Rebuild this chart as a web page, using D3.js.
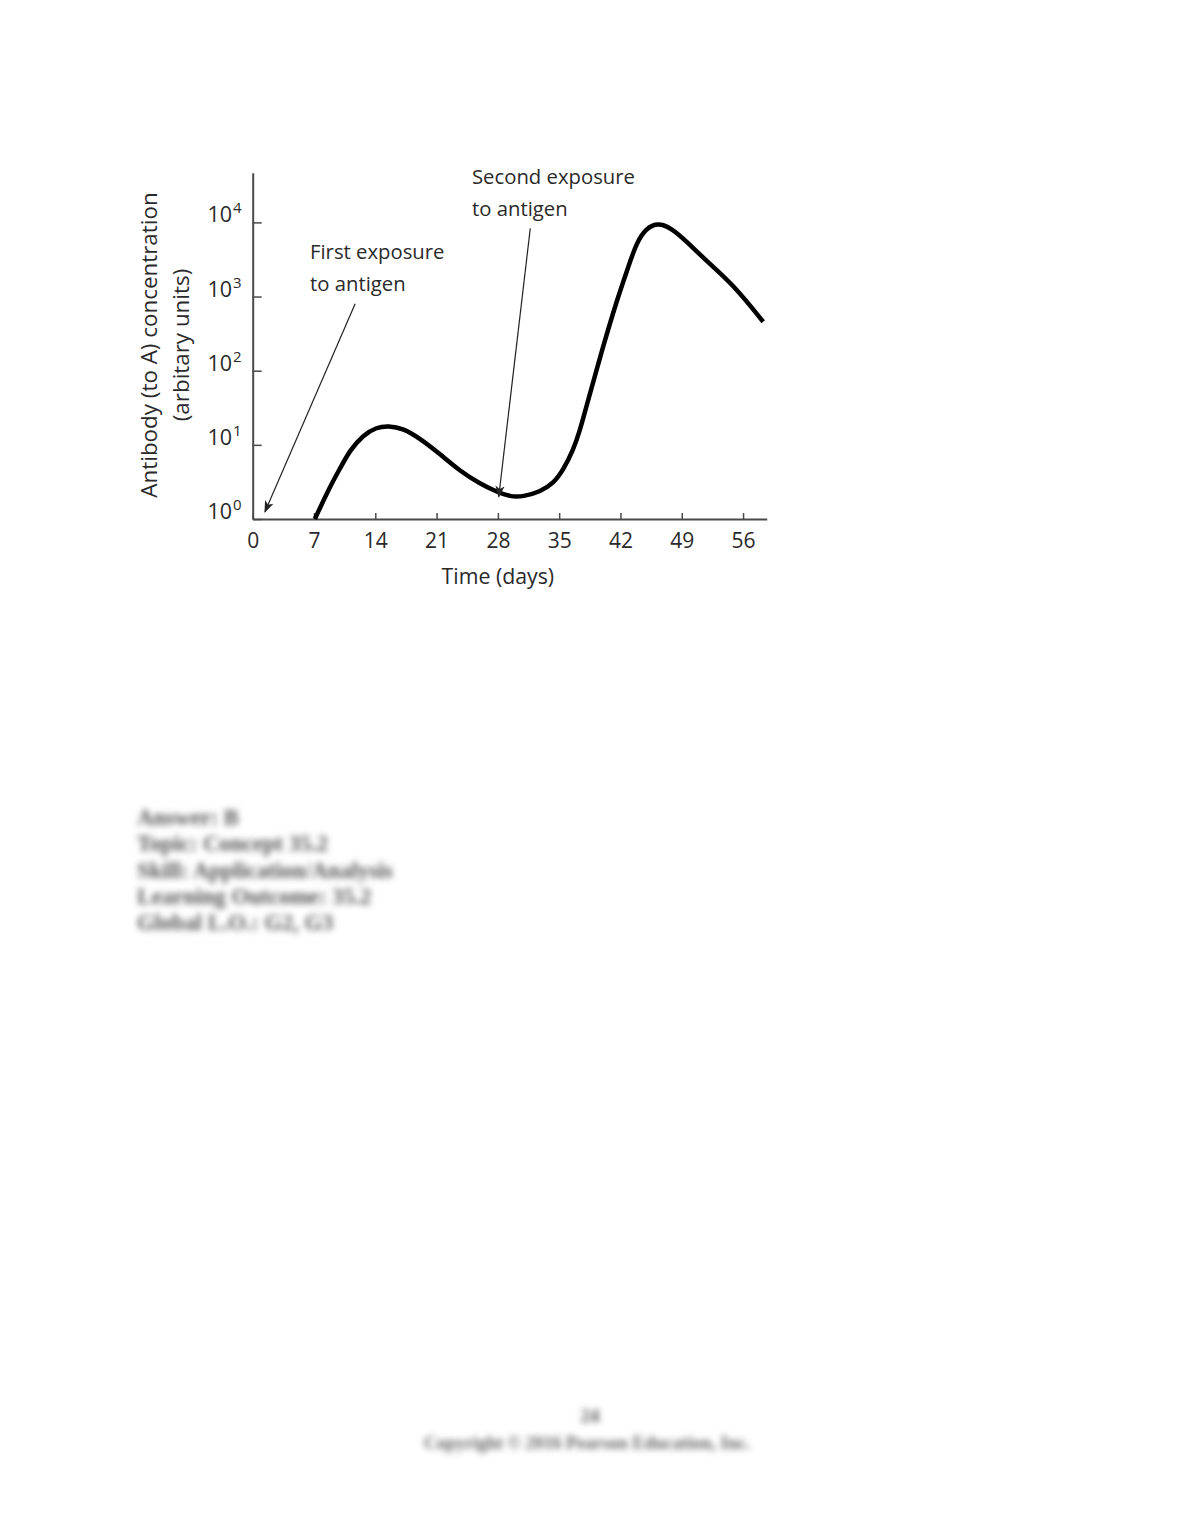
<!DOCTYPE html>
<html><head><meta charset="utf-8">
<script src="https://cdn.jsdelivr.net/npm/d3@7"></script>
<style>
html,body{margin:0;padding:0;background:#fff;}
</style></head>
<body>
<script>
// ---- data ----
const days = [7.1, 8.8, 9.97, 11.11, 12.63, 14.16, 15.49, 17.2, 19.1, 21.4, 23.7, 25.96, 27.87, 29.38, 30.9, 32.8, 34.33, 35.47, 36.6, 37.38, 38.1, 40.0, 41.6, 42.9, 43.8, 44.9, 46.3, 47.85, 49.56, 51.85, 54.9, 58.3];
const antibody = [1, 2.7, 4.8, 8.5, 13.6, 17.3, 18.1, 16.7, 12.2, 7.5, 4.4, 3.0, 2.33, 2.0, 2.0, 2.33, 3.0, 4.6, 8.5, 15.8, 32.7, 210, 900, 2520, 5200, 8300, 9900, 8300, 5500, 3000, 1440, 457];
const xTicks = [0, 7, 14, 21, 28, 35, 42, 49, 56];
const yTicks = [1, 10, 100, 1000, 10000];
const yTickExp = ["0", "1", "2", "3", "4"];
const annotations = [
  {lines: ["First exposure", "to antigen"], from: [11.7, 800], to: [1.4, 1.25]},
  {lines: ["Second exposure", "to antigen"], from: [31.7, 8300], to: [28.1, 2.0]}
];
const xLabel = "Time (days)";
const yLabel = ["Antibody (to A) concentration", "(arbitary units)"];
const footerLines = ["Answer:  B", "Topic:  Concept 35.2", "Skill:  Application/Analysis", "Learning Outcome:  35.2", "Global L.O.:  G2, G3"];
const pageNumber = "24";
const copyright = "Copyright © 2016 Pearson Education, Inc.";

// ---- drawing ----
const W = 1180, H = 1527;
const sans = '"Open Sans","Noto Sans",sans-serif';
const serif = '"Liberation Serif","DejaVu Serif",serif';
const svg = d3.select("body").append("svg").attr("width", W).attr("height", H);
svg.append("rect").attr("width", W).attr("height", H).attr("fill", "#fff");

const defs = svg.append("defs");
defs.append("filter").attr("id", "blur").attr("x", "-10%").attr("y", "-50%").attr("width", "120%").attr("height", "200%")
  .append("feGaussianBlur").attr("stdDeviation", 3);
defs.append("marker").attr("id", "arrow").attr("viewBox", "0 0 10 10").attr("refX", 9).attr("refY", 5)
  .attr("markerWidth", 12).attr("markerHeight", 12).attr("markerUnits", "userSpaceOnUse").attr("orient", "auto")
  .append("path").attr("d", "M0,1.2 L10,5 L0,8.8 L2.5,5 Z").attr("fill", "#222");

const x = d3.scaleLinear().domain([0, 58.7]).range([252.7, 766.7]);
const y = d3.scaleLog().domain([1, Math.pow(10, 4.67)]).range([519, 172.7]);

const axisColor = "#4a4a4a";
const textColor = "#2a2a2a";

// x axis
const gx = svg.append("g").attr("transform", `translate(0,${y(1)})`)
  .call(d3.axisBottom(x).tickValues(xTicks).tickSize(-6).tickSizeOuter(0).tickPadding(14).tickFormat(d3.format("d")));
gx.select(".domain").attr("stroke", axisColor).attr("stroke-width", 2);
gx.selectAll(".tick line").attr("stroke", axisColor).attr("stroke-width", 1.5);
gx.selectAll(".tick text").attr("font-size", 21).attr("fill", textColor).style("font-family", sans);

// y axis
const gy = svg.append("g").attr("transform", `translate(${x(0)},0)`)
  .call(d3.axisLeft(y).tickValues(yTicks).tickSize(-9).tickSizeOuter(0).tickFormat(""));
gy.select(".domain").attr("stroke", axisColor).attr("stroke-width", 2);
gy.selectAll(".tick line").attr("stroke", axisColor).attr("stroke-width", 1.5);
gy.selectAll(".tick text").remove();
yTicks.forEach((v, i) => {
  const t = svg.append("text").attr("x", x(0) - 11).attr("y", y(v))
    .attr("text-anchor", "end").attr("font-size", 21.5).attr("fill", textColor).style("font-family", sans);
  t.append("tspan").text("10");
  t.append("tspan").attr("font-size", 15).attr("dx", 1).attr("dy", -9).text(yTickExp[i]);
});

// axis labels
svg.append("text").attr("x", x(28)).attr("y", 584).attr("text-anchor", "middle")
  .attr("font-size", 21.3).attr("fill", textColor).style("font-family", sans).text(xLabel);
yLabel.forEach((s, i) => {
  const cx = 157 + i * 32;
  svg.append("text").attr("transform", `translate(${cx},345) rotate(-90)`)
    .attr("text-anchor", "middle").attr("font-size", 22.4).attr("fill", textColor).style("font-family", sans).text(s);
});

// curve
const pts = days.map((d, i) => [d, antibody[i]]);
svg.append("path").datum(pts)
  .attr("fill", "none").attr("stroke", "#000").attr("stroke-width", 4.5).attr("stroke-linecap", "butt")
  .attr("stroke-linejoin", "round")
  .attr("d", d3.line().x(d => x(d[0])).y(d => y(d[1])).curve(d3.curveBasis));

// annotations
const annoPos = [[310, 259], [472, 184]];
annotations.forEach((a, k) => {
  a.lines.forEach((s, i) => {
    svg.append("text").attr("x", annoPos[k][0]).attr("y", annoPos[k][1] + i * 32)
      .attr("font-size", 20.3).attr("fill", textColor).style("font-family", sans).text(s);
  });
  svg.append("line")
    .attr("x1", x(a.from[0])).attr("y1", y(a.from[1]))
    .attr("x2", x(a.to[0])).attr("y2", y(a.to[1]))
    .attr("stroke", "#222").attr("stroke-width", 1.2).attr("marker-end", "url(#arrow)");
});

// blurred footer text
const fg = svg.append("g").attr("filter", "url(#blur)");
footerLines.forEach((s, i) => {
  fg.append("text").attr("x", 137).attr("y", 825 + i * 26.3)
    .style("font-family", serif).attr("font-size", 22.5).attr("font-weight", "bold").attr("fill", "#555").text(s);
});
fg.append("text").attr("x", 590).attr("y", 1422).attr("text-anchor", "middle")
  .style("font-family", serif).attr("font-size", 19).attr("font-weight", "bold").attr("fill", "#555").text(pageNumber);
fg.append("text").attr("x", 587).attr("y", 1449).attr("text-anchor", "middle")
  .style("font-family", serif).attr("font-size", 18).attr("font-weight", "bold").attr("fill", "#666").text(copyright);
</script>
</body></html>
